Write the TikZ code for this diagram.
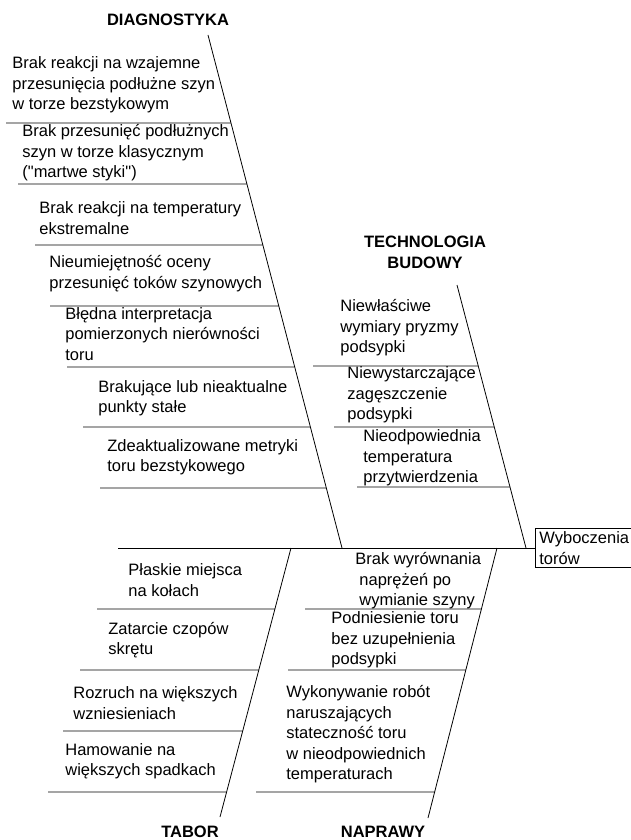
\documentclass[tikz,border=0pt]{standalone}
\usepackage{fontspec}
\setmainfont{Liberation Sans}
\usetikzlibrary{calc}
\begin{document}
\begin{tikzpicture}[x=1pt,y=-1pt,line width=0.8pt,
  lbl/.style={anchor=west,inner sep=0pt,align=left,font=\fontsize{16.5}{20.5}\selectfont},
  ttl/.style={anchor=north,inner sep=0pt,align=center,font=\fontsize{16.5}{20.5}\selectfont\bfseries},
  effect/.style={draw,anchor=west,inner xsep=4pt,inner ysep=3pt,text width=95pt,align=left,font=\fontsize{16.5}{20.5}\selectfont}]
\useasboundingbox (0,0) rectangle (630,840);
% effect box and spine
\node[effect] (eff) at (535,548) {Wyboczenia\\torów};
\coordinate (spL) at (118,548);
\draw (spL) -- (eff.west);
% bones
\coordinate (dT) at (208,35);  \coordinate (dB) at (342,548);
\coordinate (tT) at (457,285); \coordinate (tB) at (526,548);
\coordinate (aT) at (291,548); \coordinate (aB) at (220,817);
\coordinate (nT) at (497,548); \coordinate (nB) at (428,818);
\draw (dT) -- (dB);
\draw (tT) -- (tB);
\draw (aT) -- (aB);
\draw (nT) -- (nB);
% ribs
\foreach \x/\y [count=\i] in {6/123,18/184,35/245,50/306,67/367,83/427,100/488}
  {\coordinate (dr\i) at (\x,\y); \draw (dr\i) -- ($(dT)!{(\y-35)/513}!(dB)$);}
\foreach \x/\y [count=\i] in {313/366,334/427,357/487}
  {\coordinate (tr\i) at (\x,\y); \draw (tr\i) -- ($(tT)!{(\y-285)/263}!(tB)$);}
\foreach \x/\y [count=\i] in {97/609,80/670,63/731,48/792}
  {\coordinate (ar\i) at (\x,\y); \draw (ar\i) -- ($(aT)!{(\y-548)/269}!(aB)$);}
\foreach \x/\y [count=\i] in {305/609,288/670,256/792}
  {\coordinate (nr\i) at (\x,\y); \draw (nr\i) -- ($(nT)!{(\y-548)/270}!(nB)$);}
% titles
\node[ttl] (tdiag) at (168,14) {DIAGNOSTYKA};
\node[ttl] (ttech) at (425,236) {TECHNOLOGIA\\BUDOWY};
\node[ttl] (ttab) at (190,826) {TABOR};
\node[ttl] (tnap) at (383,826) {NAPRAWY};
% diagnostyka
\node[lbl] (d1) at (12,85) {Brak reakcji na wzajemne\\przesunięcia podłużne szyn\\w torze bezstykowym};
\node[lbl] (d2) at (22,153) {Brak przesunięć podłużnych\\szyn w torze klasycznym\\(\textquotedbl martwe styki\textquotedbl)};
\node[lbl] (d3) at (39,218) {Brak reakcji na temperatury\\ekstremalne};
\node[lbl] (d4) at (49,273.5) {Nieumiejętność oceny\\przesunięć toków szynowych};
\node[lbl] (d5) at (65,334) {Błędna interpretacja\\pomierzonych nierówności\\toru};
\node[lbl] (d6) at (98,398) {Brakujące lub nieaktualne\\punkty stałe};
\node[lbl] (d7) at (107,457) {Zdeaktualizowane metryki\\toru bezstykowego};
% technologia
\node[lbl] (t1) at (340,328) {Niewłaściwe\\wymiary pryzmy\\podsypki};
\node[lbl] (t2) at (347,395) {Niewystarczające\\zagęszczenie\\podsypki};
\node[lbl] (t3) at (363,458) {Nieodpowiednia\\temperatura\\przytwierdzenia};
% tabor
\node[lbl] (a1) at (128,580) {Płaskie miejsca\\na kołach};
\node[lbl] (a2) at (108,640) {Zatarcie czopów\\skrętu};
\node[lbl] (a3) at (73,703) {Rozruch na większych\\wzniesieniach};
\node[lbl] (a4) at (65,761) {Hamowanie na\\większych spadkach};
% naprawy
\node[lbl] (n1) at (355,581) {Brak wyrównania\\\hspace*{4pt}naprężeń po\\\hspace*{4pt}wymianie szyny};
\node[lbl] (n2) at (331,640) {Podniesienie toru\\bez uzupełnienia\\podsypki};
\node[lbl] (n3) at (286,734.5) {Wykonywanie robót\\naruszających\\stateczność toru\\w nieodpowiednich\\temperaturach};
\end{tikzpicture}
\end{document}
